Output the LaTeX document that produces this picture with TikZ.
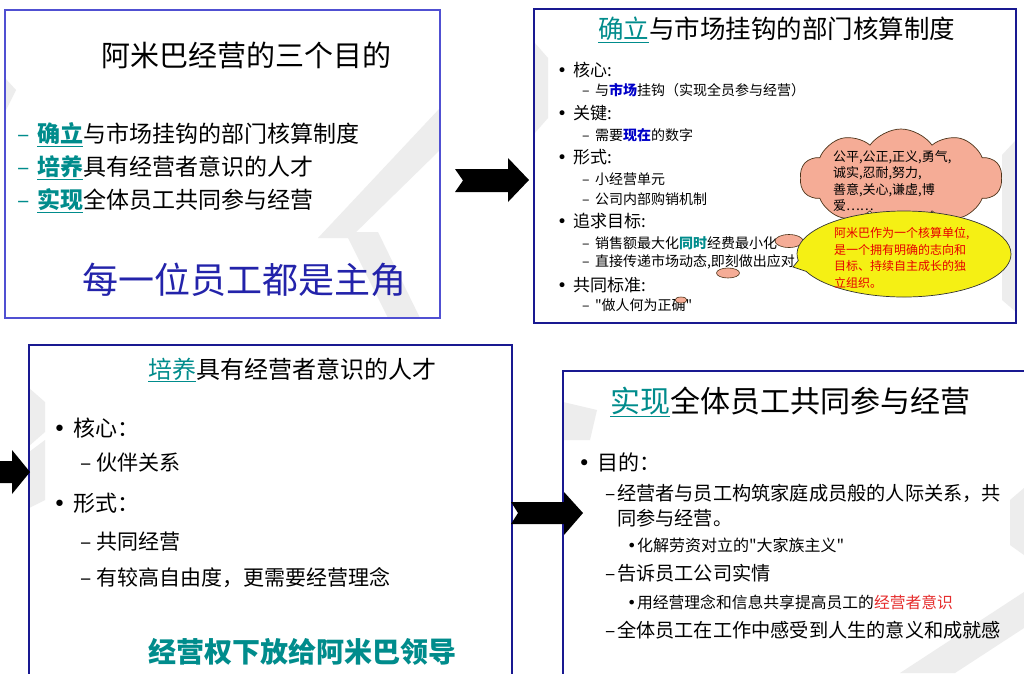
\documentclass[tikz,border=0pt]{standalone}
\usepackage{fontspec}
\setmainfont{Noto Sans CJK SC}
\newfontfamily\djv{DejaVu Sans}
\newfontfamily\nq{Noto Sans CJK SC}
\usetikzlibrary{shapes.symbols,shapes.callouts,shapes.geometric}
\definecolor{tealc}{RGB}{0,140,140}
\definecolor{navy}{RGB}{25,25,145}
\definecolor{lblue}{RGB}{80,80,210}
\definecolor{dblue}{RGB}{35,35,170}
\definecolor{kblue}{RGB}{0,0,200}
\definecolor{pinkc}{RGB}{245,172,150}
\definecolor{yell}{RGB}{245,240,20}
\definecolor{redc}{RGB}{230,0,0}
\definecolor{redk}{RGB}{230,45,45}
\newcommand{\dsh}[1]{\makebox[#1][l]{–}}
\newcommand{\blt}[1]{\makebox[#1][l]{{\djv •}}}
\newcommand{\kw}[1]{\textcolor{tealc}{\underline{\textbf{#1}}}}
\newcommand{\kwn}[1]{\textcolor{tealc}{\underline{#1}}}
\newcommand{\qt}{{\nq"}}
\newcommand{\fs}[1]{\fontsize{#1}{#1}\selectfont}
\begin{document}
\begin{tikzpicture}[x=1pt,y=-1pt,
  txt/.style={anchor=west,inner sep=0pt,outer sep=0pt},
  wm/.style={fill=black!7,draw=none},
  blockarrow/.style={fill=black,draw=none},
  pinkbub/.style={ellipse,draw=black!60!brown,fill=pinkc,line width=0.6pt,inner sep=0pt},
]
\useasboundingbox (0,0) rectangle (1024,673);
\fill[white] (0,0) rectangle (1024,673);

% ---------------- panel 1 ----------------
\fill[white] (5,10) rectangle (440,318);
\begin{scope}
\clip (5,10) rectangle (440,318);
\fill[wm] (440,108)--(440,150)--(350,238)--(318,238)--cycle;
\fill[wm] (345,232)--(378,232)--(420,318)--(388,318)--cycle;
\fill[wm] (5,78)--(16,90)--(5,112)--cycle;
\end{scope}
\draw[lblue,line width=1.6pt] (5,10) rectangle (440,318);
\node[txt,font=\fs{29}] (p1title) at (101,55) {阿米巴经营的三个目的};
\node[txt,font=\fs{23}] (p1a) at (17,135) {\textcolor{tealc}{\dsh{20pt}}\kw{确立}与市场挂钩的部门核算制度};
\node[txt,font=\fs{23}] (p1b) at (17,168) {\textcolor{tealc}{\dsh{20pt}}\kw{培养}具有经营者意识的人才};
\node[txt,font=\fs{23}] (p1c) at (17,201) {\textcolor{tealc}{\dsh{20pt}}\kw{实现}全体员工共同参与经营};
\node[txt,font=\fs{36},text=dblue] (p1d) at (82,280) {每一位员工都是主角};

% ---------------- panel 2 ----------------
\fill[white] (534,9) rectangle (1016,323);
\begin{scope}
\clip (534,9) rectangle (1016,323);
\fill[wm] (534,42)--(548,58)--(548,118)--(534,134)--cycle;
\fill[wm] (1016,140)--(1002,155)--(1002,300)--(1016,312)--cycle;
\end{scope}
\draw[navy,line width=1.6pt] (534,9) rectangle (1016,323);
\node[txt,font=\fs{25.5}] (p2title) at (598,30) {\kwn{确立}与市场挂钩的部门核算制度};
\node[txt,font=\fs{17}] (p2a) at (557,70) {\blt{16pt}核心:};
\node[txt,font=\fs{14}] (p2a1) at (582,90) {\dsh{13pt}与\textcolor{kblue}{\textbf{市场}}挂钩（实现全员参与经营）};
\node[txt,font=\fs{17}] (p2b) at (557,113) {\blt{16pt}关键:};
\node[txt,font=\fs{14}] (p2b1) at (582,135) {\dsh{13pt}需要\textcolor{kblue}{\textbf{现在}}的数字};
\node[txt,font=\fs{17}] (p2c) at (557,157) {\blt{16pt}形式:};
\node[txt,font=\fs{14}] (p2c1) at (582,179) {\dsh{13pt}小经营单元};
\node[txt,font=\fs{14}] (p2c2) at (582,199) {\dsh{13pt}公司内部购销机制};
\node[txt,font=\fs{17}] (p2d) at (557,221) {\blt{16pt}追求目标:};
\node[txt,font=\fs{14}] (p2d1) at (582,243) {\dsh{13pt}销售额最大化\textcolor{tealc}{\textbf{同时}}经费最小化};
\node[txt,font=\fs{14}] (p2d2) at (582,262) {\dsh{13pt}直接传递市场动态,即刻做出应对};
\node[txt,font=\fs{17}] (p2e) at (557,285) {\blt{16pt}共同标准:};
\node[txt,font=\fs{14}] (p2e1) at (582,305) {\dsh{13pt}\qt 做人何为正确\qt};

% cloud and bubbles
\node[cloud,cloud puffs=10,cloud puff arc=110,draw=black!60!brown,fill=pinkc,line width=0.7pt,
      minimum width=202pt,minimum height=98pt,inner sep=0pt] (cloud) at (901,178) {};
\node[txt,font={\fontsize{13}{16.5}\selectfont},align=left] (cloudtxt) at (833,181)
  {公平,公正,正义,勇气,\\诚实,忍耐,努力,\\善意,关心,谦虚,博\\爱……};
\node[pinkbub,minimum width=28pt,minimum height=13pt] (bub1) at (789,241) {};
\node[pinkbub,minimum width=23pt,minimum height=10pt] (bub2) at (728,273) {};
\node[pinkbub,minimum width=12pt,minimum height=6pt] (bub3) at (681,300) {};
\node[ellipse callout,draw=black!80,fill=yell,line width=0.7pt,
      minimum width=214pt,minimum height=86pt,inner sep=0pt,
      callout absolute pointer={(793,267)}] (callout) at (904,254) {};
\node[txt,align=left,text=redc,font={\fontsize{12}{16.6}\selectfont}] (callouttxt) at (834,258)
  {阿米巴作为一个核算单位,\\是一个拥有明确的志向和\\目标、持续自主成长的独\\立组织。};

% ---------------- panel 3 ----------------
\fill[white] (29,345) rectangle (512,690);
\begin{scope}
\clip (29,345) rectangle (512,690);
\fill[wm] (29,388)--(45,402)--(45,432)--(29,446)--cycle;
\fill[wm] (29,452)--(45,440)--(45,500)--(29,508)--cycle;
\end{scope}
\draw[navy,line width=1.6pt] (29,345) rectangle (512,690);
\node[txt,font=\fs{24}] (p3title) at (148,370) {\kwn{培养}具有经营者意识的人才};
\node[txt,font=\fs{22}] (p3a) at (53,428) {\blt{20pt}核心：};
\node[txt,font=\fs{21}] (p3a1) at (80,463) {\dsh{17pt}伙伴关系};
\node[txt,font=\fs{22}] (p3b) at (53,503) {\blt{20pt}形式：};
\node[txt,font=\fs{21}] (p3b1) at (80,542) {\dsh{17pt}共同经营};
\node[txt,font=\fs{21}] (p3b2) at (80,578) {\dsh{17pt}有较高自由度，更需要经营理念};
\node[txt,font=\fs{28},text=tealc] (p3c) at (148,652) {\textbf{经营权下放给阿米巴领导}};

% ---------------- panel 4 ----------------
\fill[white] (563,371) rectangle (1040,690);
\begin{scope}
\clip (563,371) rectangle (1040,690);
\fill[wm] (563,402)--(597,410)--(590,440)--(563,440)--cycle;
\fill[wm] (1024,488)--(1010,500)--(1010,545)--(1024,555)--cycle;
\fill[wm] (900,673)--(1024,592)--(1024,628)--(955,673)--cycle;
\end{scope}
\draw[navy,line width=1.6pt] (563,371) rectangle (1040,690);
\node[txt,font=\fs{30}] (p4title) at (610,402) {\kwn{实现}全体员工共同参与经营};
\node[txt,font=\fs{21}] (p4a) at (578,462) {\blt{19pt}目的：};
\node[txt,font=\fs{19.2}] (p4a1) at (605,493) {\dsh{12pt}经营者与员工构筑家庭成员般的人际关系，共};
\node[txt,font=\fs{19.2}] (p4a1b) at (617,518) {同参与经营。};
\node[txt,font=\fs{16}] (p4a2) at (627,545) {\blt{10pt}化解劳资对立的\qt 大家族主义\qt};
\node[txt,font=\fs{19.2}] (p4a3) at (605,573) {\dsh{12pt}告诉员工公司实情};
\node[txt,font=\fs{15.8}] (p4a4) at (627,602) {\blt{10pt}用经营理念和信息共享提高员工的\textcolor{redk}{经营者意识}};
\node[txt,font=\fs{19.2}] (p4a5) at (605,630) {\dsh{12pt}全体员工在工作中感受到人生的意义和成就感};

% ---------------- block arrows ----------------
\fill[blockarrow] (455,169)--(508,169)--(508,158)--(529,180)--(508,202)--(508,192)--(455,192)--(463,180.5)--cycle;
\fill[blockarrow] (-5,461)--(12,461)--(12,450)--(30,472)--(12,494)--(12,483)--(-5,483)--cycle;
\fill[blockarrow] (511,502)--(564,502)--(564,492)--(583,513)--(564,535)--(564,524)--(511,524)--(518,513)--cycle;
\end{tikzpicture}
\end{document}
